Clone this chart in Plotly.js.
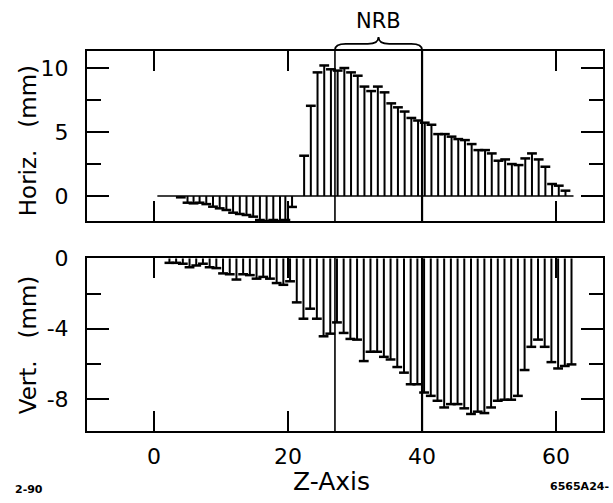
<!DOCTYPE html>
<html>
<head>
<meta charset="utf-8">
<script src="https://cdn.plot.ly/plotly-3.0.1.min.js"></script>
<style>html,body{margin:0;padding:0;background:#fff;}#chart{width:613px;height:503px;}</style>
</head>
<body>
<div id="chart"></div>
<script>
// ---- Data ----
// Top panel: horizontal deviation (mm) vs Z position
var horizZ = [4.0, 5.0, 5.9, 6.8, 7.8, 8.8, 9.8, 10.8, 11.8, 12.8, 13.8, 14.8, 15.8, 16.8, 17.8, 18.8, 19.6, 20.6,
  22.4, 23.4, 24.4, 25.4, 26.4, 27.4, 28.4, 29.4, 30.4, 31.4, 32.4, 33.4, 34.4, 35.4, 36.4, 37.4, 38.4, 39.4,
  40.4, 41.4, 42.4, 43.4, 44.4, 45.4, 46.4, 47.4, 48.4, 49.4, 50.4, 51.4, 52.4, 53.4, 54.4, 55.4, 56.4, 57.4,
  58.4, 59.4, 60.4, 61.4];
var horizVal = [-0.1, -0.52, -0.57, -0.52, -0.63, -0.83, -0.96, -1.09, -1.3, -1.4, -1.48, -1.61, -1.87, -1.95, -1.87, -1.95, -1.87, -0.85,
  3.15, 7.05, 9.66, 10.2, 9.9, 9.8, 10.0, 9.66, 9.4, 8.55, 8.2, 8.55, 8.1, 7.24, 6.93, 6.6, 6.1, 5.9,
  5.73, 5.57, 4.84, 4.84, 4.64, 4.45, 4.37, 4.06, 3.59, 3.59, 3.33, 2.76, 2.86, 2.5, 2.42, 2.94, 3.33, 2.86,
  2.29, 0.94, 0.81, 0.42];
// Bottom panel: vertical deviation (mm) vs Z position
var vertZ = [2.3, 3.3, 4.3, 5.3, 6.3, 7.3, 8.3, 9.3, 10.3, 11.3, 12.3, 13.3, 14.3, 15.3, 16.3, 17.3, 18.3, 19.3, 20.3, 21.3,
  22.3, 23.3, 24.3, 25.3, 26.3, 27.3, 28.3, 29.3, 30.3, 31.3, 32.3, 33.3, 34.3, 35.3, 36.3, 37.3, 38.3, 39.3, 40.3, 41.3,
  42.3, 43.3, 44.3, 45.3, 46.3, 47.3, 48.3, 49.3, 50.3, 51.3, 52.3, 53.3, 54.3, 55.3, 56.3, 57.3, 58.3, 59.3, 60.3, 61.3, 62.3];
var vertVal = [-0.25, -0.25, -0.3, -0.5, -0.4, -0.3, -0.5, -0.55, -0.85, -0.9, -1.2, -0.9, -0.95, -1.15, -1.05, -1.15, -1.4, -1.5, -1.3, -2.5,
  -3.43, -2.86, -3.43, -4.43, -4.28, -3.64, -4.24, -4.58, -4.62, -5.84, -5.31, -5.31, -5.6, -5.75, -6.18, -6.5, -7.16, -7.16, -7.63, -7.82,
  -8.1, -8.48, -8.29, -8.29, -8.53, -8.85, -8.72, -8.8, -8.48, -8.1, -8.04, -8.04, -7.82, -6.35, -5.03, -4.62, -5.03, -5.9, -6.26, -6.12, -6.03];
// NRB region boundaries (Z)
var nrbBounds = [27, 40];
// Zero baseline extent in the top panel (Z)
var baseExtent = [0.5, 62.6];
// Tick values and labels
var xTicks = [0, 20, 40, 60];
var horizTicks = [0, 5, 10];
var horizTickText = ['0', '5', '10'];
var vertTicks = [0, -4, -8];
var vertTickText = ['0', '-4', '-8'];

var FONT = 'DejaVu Sans, Liberation Sans, Arial, sans-serif';
var ink = '#000';

var traces = [
  {type: 'bar', x: horizZ, y: horizVal, width: 0.3, marker: {color: ink, line: {width: 0}},
   xaxis: 'x2', yaxis: 'y2', hoverinfo: 'skip', showlegend: false},
  {type: 'scatter', mode: 'markers', x: horizZ, y: horizVal,
   marker: {symbol: 'line-ew', size: 7, line: {color: ink, width: 2.5}},
   xaxis: 'x2', yaxis: 'y2', hoverinfo: 'skip', showlegend: false, cliponaxis: false},
  {type: 'bar', x: vertZ, y: vertVal, width: 0.3, marker: {color: ink, line: {width: 0}},
   xaxis: 'x', yaxis: 'y', hoverinfo: 'skip', showlegend: false},
  {type: 'scatter', mode: 'markers', x: vertZ, y: vertVal,
   marker: {symbol: 'line-ew', size: 7, line: {color: ink, width: 2.5}},
   xaxis: 'x', yaxis: 'y', hoverinfo: 'skip', showlegend: false, cliponaxis: false}
];

var axCommon = {
  showline: true, linecolor: ink, linewidth: 2, mirror: 'allticks',
  ticks: 'inside', tickcolor: ink, tickwidth: 2,
  showgrid: false, zeroline: false, fixedrange: true,
  tickfont: {family: FONT, size: 22, color: ink}
};

function merge(a, b) { var o = {}; for (var k in a) o[k] = a[k]; for (var k2 in b) o[k2] = b[k2]; return o; }

var shapes = [];
nrbBounds.forEach(function (zv, i) {
  var w = i === 1 ? 2.2 : 1.6;
  shapes.push({type: 'line', xref: 'x', yref: 'y domain', x0: zv, x1: zv, y0: 0, y1: 1, line: {color: ink, width: w}});
  shapes.push({type: 'line', xref: 'x2', yref: 'y2 domain', x0: zv, x1: zv, y0: 0, y1: 1, line: {color: ink, width: w}});
});
shapes.push({type: 'line', xref: 'x2', yref: 'y2', x0: baseExtent[0], x1: baseExtent[1], y0: 0, y1: 0, line: {color: ink, width: 1.6}});

// curly brace over the NRB region
(function () {
  var a = nrbBounds[0], b = nrbBounds[1], m = (a + b) / 2;
  var yl = 1.003, ym = 1.019, yh = 1.037, d = 1.6;
  var p = 'M' + a + ',' + yl +
    ' Q' + a + ',' + ym + ' ' + (a + d) + ',' + ym +
    ' L' + (m - d) + ',' + ym +
    ' Q' + m + ',' + ym + ' ' + m + ',' + yh +
    ' Q' + m + ',' + ym + ' ' + (m + d) + ',' + ym +
    ' L' + (b - d) + ',' + ym +
    ' Q' + b + ',' + ym + ' ' + b + ',' + yl;
  shapes.push({type: 'path', xref: 'x2', yref: 'paper', path: p, line: {color: ink, width: 1.8}});
})();

function ann(o) { o.showarrow = false; if (!o.xanchor) o.xanchor = 'center'; if (!o.yanchor) o.yanchor = 'middle'; return o; }

var layout = {
  width: 613, height: 503,
  margin: {l: 87, r: 10, t: 51, b: 72, pad: 0},
  paper_bgcolor: '#fff', plot_bgcolor: '#fff',
  barmode: 'overlay',
  showlegend: false,
  font: {family: FONT, color: ink},
  xaxis: merge(axCommon, {anchor: 'y', domain: [0, 1], range: [-10, 67], tickmode: 'array', tickvals: xTicks,
    ticklen: 20, ticklabelstandoff: 5}),
  xaxis2: merge(axCommon, {anchor: 'y2', domain: [0, 1], range: [-10, 67], tickmode: 'array', tickvals: xTicks,
    ticklen: 20, showticklabels: false, matches: 'x'}),
  yaxis: merge(axCommon, {anchor: 'x', domain: [0, 0.455], range: [-9.82, 0.02], tickmode: 'array',
    tickvals: vertTicks, ticktext: vertTickText, ticklen: 22, ticklabelstandoff: 12,
    minor: {tickmode: 'linear', tick0: 0, dtick: 2, ticks: 'inside', ticklen: 14, tickwidth: 2, tickcolor: ink}}),
  yaxis2: merge(axCommon, {anchor: 'x2', domain: [0.5526, 1], range: [-1.95, 11.33], tickmode: 'array',
    tickvals: horizTicks, ticktext: horizTickText, ticklen: 22, ticklabelstandoff: 12,
    minor: {tickmode: 'linear', tick0: 0, dtick: 2.5, ticks: 'inside', ticklen: 14, tickwidth: 2, tickcolor: ink}}),
  shapes: shapes,
  annotations: [
    ann({xref: 'x2', yref: 'paper', x: (nrbBounds[0] + nrbBounds[1]) / 2, y: 1.078, text: 'NRB',
     font: {family: FONT, size: 21, color: ink}}),
    ann({xref: 'paper', yref: 'paper', x: -0.114, y: 0.763, text: 'Horiz.&nbsp;&nbsp;&nbsp;(mm)', textangle: -90,
     font: {family: FONT, size: 23, color: ink}}),
    ann({xref: 'paper', yref: 'paper', x: -0.114, y: 0.226, text: 'Vert.&nbsp;&nbsp;&nbsp;(mm)', textangle: -90,
     font: {family: FONT, size: 23, color: ink}}),
    ann({xref: 'paper', yref: 'paper', x: 0.473, y: -0.132, text: 'Z-Axis',
     font: {family: FONT, size: 25, color: ink}}),
    ann({xref: 'paper', yref: 'paper', x: -0.112, y: -0.155, text: '<b>2-90</b>',
     font: {family: FONT, size: 11, color: ink}}),
    ann({xref: 'paper', yref: 'paper', x: 0.894, xanchor: 'left', y: -0.145, text: '<b>6565A24-</b>',
     font: {family: FONT, size: 11, color: ink}})
  ]
};

Plotly.newPlot('chart', traces, layout, {displayModeBar: false, staticPlot: true});
</script>
</body>
</html>
